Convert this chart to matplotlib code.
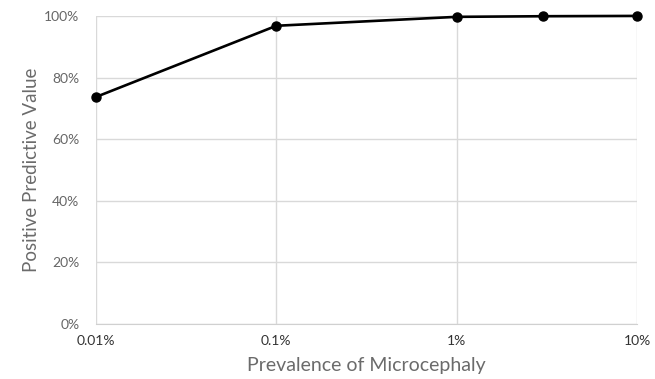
import matplotlib

matplotlib.use("Agg")
import matplotlib.pyplot as plt
from matplotlib.ticker import FixedLocator, FuncFormatter, NullLocator

# prevalence (%) and positive predictive value (%)
prevalence = [0.01, 0.1, 1, 3, 10]
ppv = [73.7, 96.8, 99.7, 99.9, 100.0]

x_ticks = [0.01, 0.1, 1, 10]
x_tick_labels = ["0.01%", "0.1%", "1%", "10%"]
y_ticks = [0, 20, 40, 60, 80, 100]

plt.rcParams["font.family"] = ["Lato", "DejaVu Sans"]

fig = plt.figure(figsize=(6.55, 3.79), dpi=100)
ax = fig.add_axes([0.1466, 0.145, 0.8259, 0.813])

ax.plot(prevalence, ppv, color="black", linewidth=1.9, marker="o",
        markersize=6.5, zorder=3, clip_on=False)

ax.set_xscale("log")
ax.set_xlim(0.01, 10)
ax.set_ylim(0, 100)
ax.xaxis.set_major_locator(FixedLocator(x_ticks))
ax.xaxis.set_minor_locator(NullLocator())
ax.set_xticks(x_ticks, x_tick_labels)
ax.set_yticks(y_ticks)
ax.yaxis.set_major_formatter(FuncFormatter(lambda v, _: f"{v:.0f}%"))

ax.grid(True, color="#d9d9d9", linewidth=1.0)
ax.set_axisbelow(True)
for side in ("top", "right", "left"):
    ax.spines[side].set_visible(False)
ax.spines["bottom"].set_color("#d0d0d0")

ax.tick_params(axis="both", length=0)
ax.tick_params(axis="x", labelsize=10, labelcolor="#333333", pad=8)
ax.tick_params(axis="y", labelsize=10, labelcolor="#666666", pad=12)

ax.set_xlabel("Prevalence of Microcephaly", fontsize=14, color="#6b6b6b",
              labelpad=7)
ax.set_ylabel("Positive Predictive Value", fontsize=13.5, color="#6b6b6b",
              labelpad=3)

fig.savefig("out.png", dpi=100)
